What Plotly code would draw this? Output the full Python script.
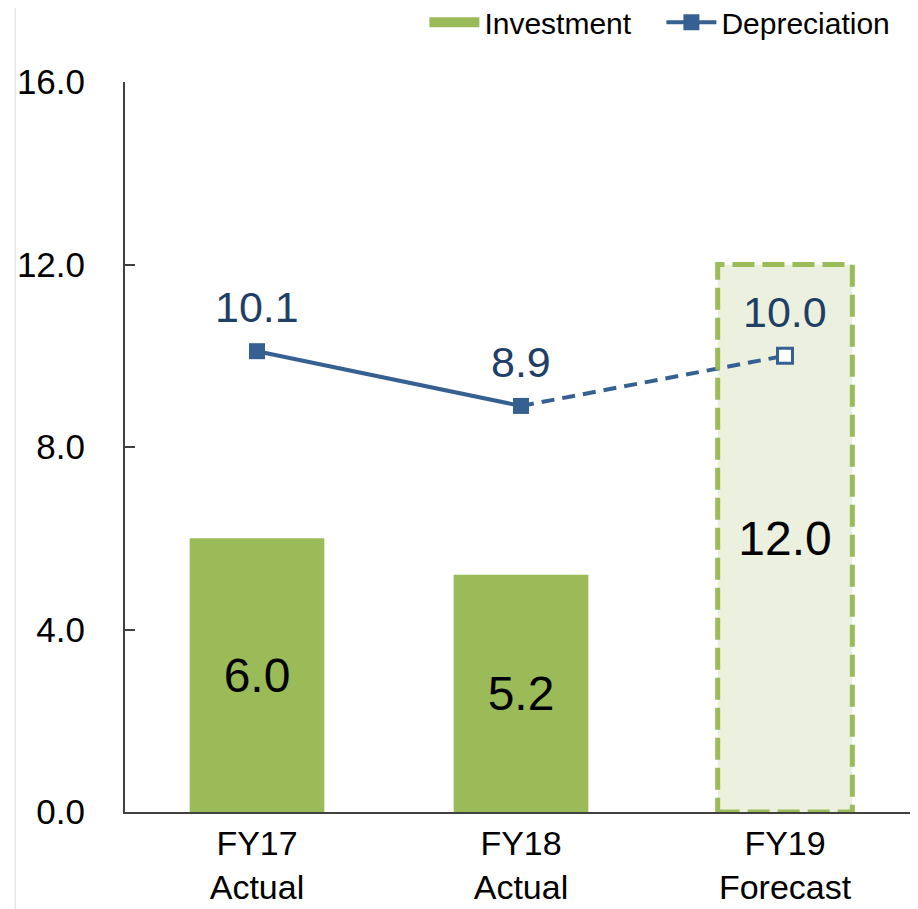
import plotly.graph_objects as go

categories = ["FY17<br>Actual", "FY18<br>Actual", "FY19<br>Forecast"]
investment = [6.0, 5.2, 12.0]
depreciation = [10.1, 8.9, 10.0]
y_ticks = [0, 4, 8, 12, 16]
y_tick_labels = ["0.0", "4.0", "8.0", "12.0", "16.0"]

GREEN = "#9BBB59"
LIGHT = "#EBF1DE"
BLUE = "#376092"
DARKBLUE = "#1F3F66"
AXIS = "#404040"
FONT = "Liberation Sans, Arial, sans-serif"
BAR_W = 0.51

fig = go.Figure()

# legend swatch for Investment (wide green block like the reference)
fig.add_trace(go.Scatter(
    x=[None], y=[None], mode="lines", name="Investment",
    line=dict(color=GREEN, width=16), hoverinfo="skip",
))

fig.add_trace(go.Bar(
    x=categories, y=investment, name="Investment", showlegend=False,
    marker=dict(color=[GREEN, GREEN, LIGHT], line=dict(width=0)),
    width=BAR_W,
    text=[f"{v:.1f}" for v in investment], textposition="inside",
    insidetextanchor="middle", textangle=0, constraintext="none",
    textfont=dict(size=48, color="black", family=FONT),
    hoverinfo="skip",
))

# dashed forecast segment
fig.add_trace(go.Scatter(
    x=categories[1:], y=depreciation[1:], mode="lines",
    line=dict(color=BLUE, width=4, dash="13px,8px"),
    showlegend=False, hoverinfo="skip",
))
# solid actual segment with filled markers
fig.add_trace(go.Scatter(
    x=categories[:2], y=depreciation[:2], mode="lines+markers", name="Depreciation",
    line=dict(color=BLUE, width=4),
    marker=dict(symbol="square", size=16, color=BLUE),
))
# forecast hollow marker
fig.add_trace(go.Scatter(
    x=categories[2:], y=depreciation[2:], mode="markers",
    marker=dict(symbol="square", size=15, color="white", line=dict(color=BLUE, width=3)),
    showlegend=False,
))

for c, v in zip(categories, depreciation):
    fig.add_annotation(x=c, y=v, text=f"{v:.1f}", showarrow=False, yshift=44,
                       font=dict(size=43, color=DARKBLUE, family=FONT))

# dashed outline of forecast bar
fi = 2
fig.add_shape(type="rect", xref="x", yref="y",
              x0=fi - BAR_W / 2, x1=fi + BAR_W / 2, y0=0, y1=investment[fi],
              line=dict(color=GREEN, width=5, dash="22px,8px"), layer="above")

# thin left border line
fig.add_shape(type="line", xref="paper", yref="paper",
              x0=-0.1387, x1=-0.1387, y0=-0.14, y1=1.12,
              line=dict(color="#D9D9D9", width=1))

fig.update_layout(
    width=910, height=901,
    margin=dict(l=117, r=1, t=74, b=97, autoexpand=False),
    paper_bgcolor="white", plot_bgcolor="white",
    font=dict(family=FONT, color="black"),
    showlegend=True,
    legend=dict(orientation="h", x=0.378, xanchor="left", y=1.082, yanchor="middle",
                font=dict(size=30, family=FONT), itemwidth=50, traceorder="normal",
                entrywidth=172, entrywidthmode="pixels",
                bgcolor="rgba(0,0,0,0)"),
    bargap=0.49,
)
fig.update_xaxes(
    type="category", categoryorder="array", categoryarray=categories,
    range=[-0.5, len(categories) - 0.5],
    showline=True, linecolor=AXIS, linewidth=2, showgrid=False, ticks="",
    tickfont=dict(size=34, family=FONT, color="black"), zeroline=False,
    automargin=False,
)
fig.update_yaxes(
    range=[0, 16], tickvals=y_ticks, ticktext=y_tick_labels,
    showline=True, linecolor=AXIS, linewidth=2, showgrid=False,
    ticks="inside", ticklen=10, tickwidth=2, tickcolor=AXIS,
    tickfont=dict(size=35, family=FONT, color="black"), zeroline=False,
    ticklabelstandoff=31, automargin=False,
)

fig.write_html("out.html")
